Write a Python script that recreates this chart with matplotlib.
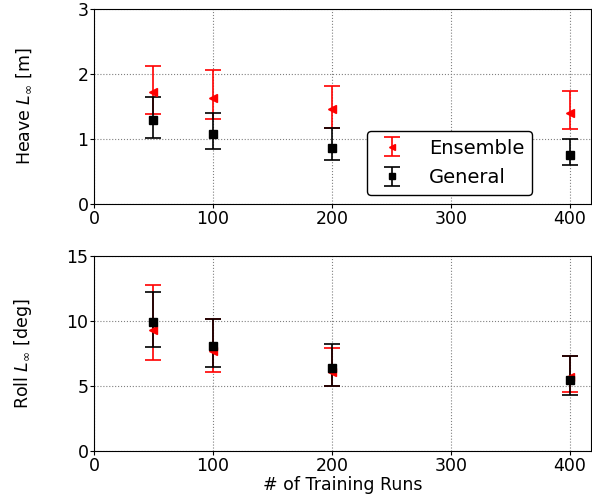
import numpy as np
import matplotlib
matplotlib.use('Agg')
import matplotlib.pyplot as plt

runs = [50, 100, 200, 400]

# heave (m)
heave_ens = [1.72, 1.63, 1.46, 1.40]
heave_ens_lo = [1.38, 1.31, 1.17, 1.15]
heave_ens_hi = [2.12, 2.06, 1.82, 1.74]
heave_gen = [1.29, 1.07, 0.86, 0.76]
heave_gen_lo = [1.02, 0.84, 0.67, 0.60]
heave_gen_hi = [1.65, 1.40, 1.17, 1.00]

# roll (deg)
roll_ens = [9.3, 7.7, 6.05, 5.67]
roll_ens_lo = [6.97, 6.08, 5.0, 4.56]
roll_ens_hi = [12.75, 10.15, 7.95, 7.33]
roll_gen = [9.9, 8.08, 6.38, 5.49]
roll_gen_lo = [7.97, 6.44, 5.0, 4.3]
roll_gen_hi = [12.23, 10.18, 8.2, 7.33]

FS = 12.5

fig = plt.figure(figsize=(5.92, 5.03), dpi=100)
ax1 = fig.add_axes([94/592, 1 - 204/503, (591-94)/592, 195/503])
ax2 = fig.add_axes([94/592, 1 - 451/503, (591-94)/592, 195/503])


def err(v, lo, hi):
    v = np.array(v); lo = np.array(lo); hi = np.array(hi)
    return [v - lo, hi - v]


def draw(ax, ens, ens_lo, ens_hi, gen, gen_lo, gen_hi):
    ax.errorbar(runs, ens, yerr=err(ens, ens_lo, ens_hi), fmt='<', color='red',
                markersize=6, capsize=5.5, elinewidth=1.2, capthick=1.2, label='Ensemble')
    ax.errorbar(runs, gen, yerr=err(gen, gen_lo, gen_hi), fmt='s', color='black',
                markersize=6, capsize=5.5, elinewidth=1.2, capthick=1.2, label='General')
    ax.grid(True, color='gray', linestyle=':', linewidth=0.8)
    ax.set_xlim(0, 418)
    ax.set_xticks([0, 100, 200, 300, 400])
    ax.tick_params(labelsize=FS, length=3, pad=1)


draw(ax1, heave_ens, heave_ens_lo, heave_ens_hi, heave_gen, heave_gen_lo, heave_gen_hi)
ax1.set_ylim(0, 3)
ax1.set_yticks([0, 1, 2, 3])
ax1.set_ylabel(r'Heave $L_\infty$ [m]', fontsize=FS)
ax1.legend(loc='lower left', bbox_to_anchor=(0.549, 0.046), borderaxespad=0,
           fontsize=14, framealpha=1, edgecolor='black', handletextpad=1.0,
           borderpad=0.4, labelspacing=0.55, markerscale=0.8, handlelength=1.8)

draw(ax2, roll_ens, roll_ens_lo, roll_ens_hi, roll_gen, roll_gen_lo, roll_gen_hi)
ax2.set_ylim(0, 15)
ax2.set_yticks([0, 5, 10, 15])
ax2.set_ylabel(r'Roll $L_\infty$ [deg]', fontsize=FS)
ax2.set_xlabel('# of Training Runs', fontsize=FS, labelpad=1)

for ax in (ax1, ax2):
    ax.yaxis.set_label_coords(-0.12, 0.5)

fig.savefig('out.png', dpi=100)
